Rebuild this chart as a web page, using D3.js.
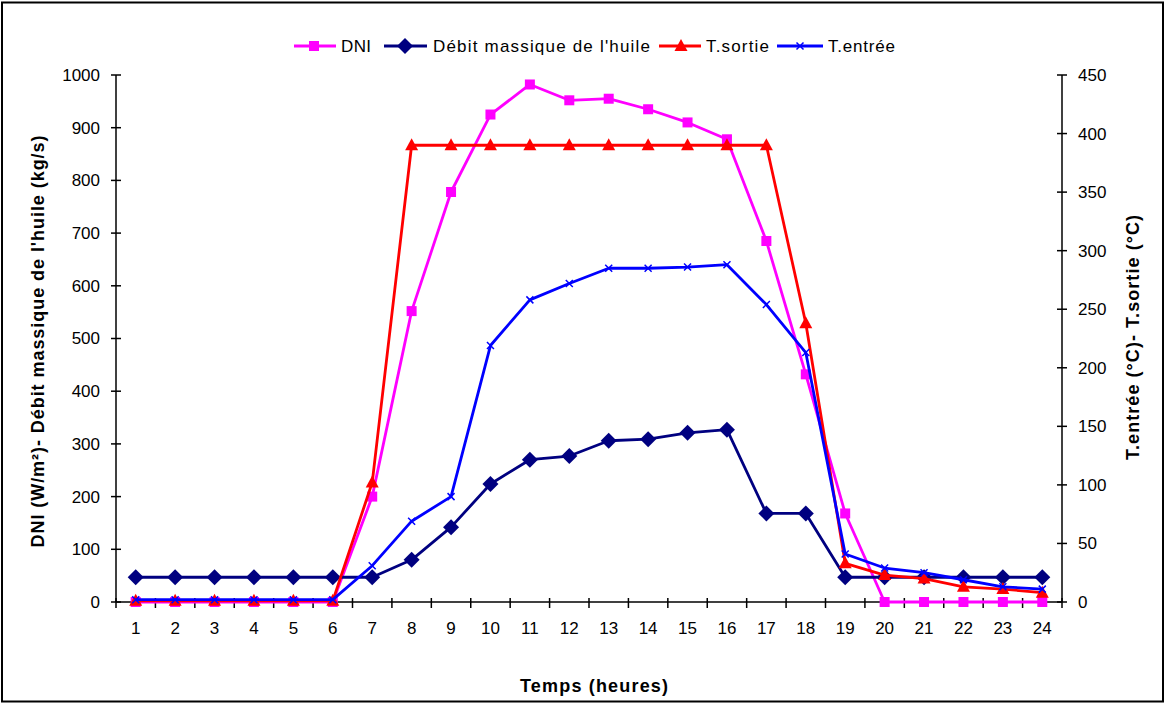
<!DOCTYPE html>
<html>
<head>
<meta charset="utf-8">
<script src="https://cdn.jsdelivr.net/npm/d3@7"></script>
<style>
  html, body { margin: 0; padding: 0; background: #fff; }
  svg { display: block; font-family: "Liberation Sans", Arial, sans-serif; }
</style>
</head>
<body>
<svg id="chart" width="1166" height="704"></svg>
<script>
const hours = [1,2,3,4,5,6,7,8,9,10,11,12,13,14,15,16,17,18,19,20,21,22,23,24];
const dni = [0,0,0,0,0,0,200,552,778,925,982,952,955,935,910,878,685,432,168,0,0,0,0,0];
const debit = [47,47,47,47,47,47,47,80,142,224,270,277,306,309,321,327,168,168,47,47,47,47,47,47];
const tSortie = [1,1,1,1,1,1,102,390,390,390,390,390,390,390,390,390,390,238,33,23,20,13,11,8];
const tEntree = [2,2,2,2,2,2,31,69,90,219,258,272,285,285,286,288,254,213,41,29,25,19,13,11];
const leftTicks = [0,100,200,300,400,500,600,700,800,900,1000];
const rightTicks = [0,50,100,150,200,250,300,350,400,450];

const svg = d3.select("#chart");
const m = {left: 116, right: 1062, top: 75, bottom: 602};

// outer border
svg.append("rect").attr("x", 2).attr("y", 2.5).attr("width", 1161).attr("height", 699)
  .attr("fill", "#fff").attr("stroke", "#000").attr("stroke-width", 2);

const x = d3.scaleBand().domain(hours).range([m.left, m.right]).padding(0);
const xc = d => x(d) + x.bandwidth() / 2;
const yL = d3.scaleLinear().domain([0, 1000]).range([m.bottom, m.top]);
const yR = d3.scaleLinear().domain([0, 450]).range([m.bottom, m.top]);

const fs = 17;
const fsTitle = 18;
// Left axis
const gL = svg.append("g").attr("transform", `translate(${m.left},0)`);
gL.append("line").attr("y1", m.top).attr("y2", m.bottom).attr("stroke", "#000").attr("stroke-width", 1.5);
gL.selectAll("line.t").data(leftTicks).enter().append("line").attr("class", "t")
  .attr("x1", -5).attr("x2", 5).attr("y1", d => yL(d)).attr("y2", d => yL(d)).attr("stroke", "#000").attr("stroke-width", 1.5);
gL.selectAll("text").data(leftTicks).enter().append("text")
  .attr("x", -16).attr("y", d => yL(d)).attr("dy", "0.35em").attr("text-anchor", "end")
  .attr("font-size", fs).text(d => d);

// Right axis
const gR = svg.append("g").attr("transform", `translate(${m.right},0)`);
gR.append("line").attr("y1", m.top).attr("y2", m.bottom).attr("stroke", "#000").attr("stroke-width", 1.5);
gR.selectAll("line.t").data(rightTicks).enter().append("line").attr("class", "t")
  .attr("x1", -5).attr("x2", 5).attr("y1", d => yR(d)).attr("y2", d => yR(d)).attr("stroke", "#000").attr("stroke-width", 1.5);
gR.selectAll("text").data(rightTicks).enter().append("text")
  .attr("x", 16).attr("y", d => yR(d)).attr("dy", "0.35em").attr("text-anchor", "start")
  .attr("font-size", fs).text(d => d);

// Bottom axis
const gB = svg.append("g").attr("transform", `translate(0,${m.bottom})`);
gB.append("line").attr("x1", m.left).attr("x2", m.right).attr("stroke", "#000").attr("stroke-width", 1.5);
const bounds = hours.map(h => x(h)).concat([m.right]);
gB.selectAll("line.t").data(bounds).enter().append("line").attr("class", "t")
  .attr("x1", d => d).attr("x2", d => d).attr("y1", -4).attr("y2", 6).attr("stroke", "#000").attr("stroke-width", 1.5);
gB.selectAll("text").data(hours).enter().append("text")
  .attr("x", d => xc(d)).attr("y", 26).attr("dy", "0.35em").attr("text-anchor", "middle")
  .attr("font-size", fs).text(d => d);

// Axis titles
svg.append("text").attr("x", 594).attr("y", 686).attr("dy", "0.35em").attr("text-anchor", "middle")
  .attr("font-size", fsTitle).attr("font-weight", "bold")
  .attr("textLength", 148).attr("lengthAdjust", "spacing").text("Temps (heures)");
svg.append("text").attr("transform", "translate(38,341.5) rotate(-90)").attr("dy", "0.35em")
  .attr("text-anchor", "middle").attr("font-size", fsTitle).attr("font-weight", "bold")
  .attr("textLength", 412).attr("lengthAdjust", "spacing")
  .text("DNI (W/m²)- Débit massique de l'huile (kg/s)");
svg.append("text").attr("transform", "translate(1133,337.5) rotate(-90)").attr("dy", "0.35em")
  .attr("text-anchor", "middle").attr("font-size", fsTitle).attr("font-weight", "bold")
  .attr("textLength", 245).attr("lengthAdjust", "spacing")
  .text("T.entrée (°C)- T.sortie (°C)");

// Markers
function drawMarker(g, type, color, cx, cy) {
  if (type === "square") {
    g.append("rect").attr("x", cx - 5).attr("y", cy - 5).attr("width", 10).attr("height", 10).attr("fill", color);
  } else if (type === "diamond") {
    g.append("path").attr("d", `M${cx},${cy-8}L${cx+8},${cy}L${cx},${cy+8}L${cx-8},${cy}Z`).attr("fill", color);
  } else if (type === "triangle") {
    g.append("path").attr("d", `M${cx},${cy-7}L${cx+6.5},${cy+5}L${cx-6.5},${cy+5}Z`).attr("fill", color);
  } else if (type === "x") {
    g.append("path").attr("d", `M${cx-3.5},${cy-3.5}L${cx+3.5},${cy+3.5}M${cx-3.5},${cy+3.5}L${cx+3.5},${cy-3.5}`)
      .attr("stroke", color).attr("stroke-width", 1.5).attr("fill", "none");
  }
}

const series = [
  {name: "DNI", values: dni, scale: yL, color: "#FF00FF", marker: "square"},
  {name: "Débit massique de l'huile", values: debit, scale: yL, color: "#000080", marker: "diamond"},
  {name: "T.sortie", values: tSortie, scale: yR, color: "#FF0000", marker: "triangle"},
  {name: "T.entrée", values: tEntree, scale: yR, color: "#0000FF", marker: "x"}
];

series.forEach(s => {
  const g = svg.append("g");
  const line = d3.line().x((d, i) => xc(hours[i])).y(d => s.scale(d));
  g.append("path").attr("d", line(s.values)).attr("fill", "none").attr("stroke", s.color)
    .attr("stroke-width", 2.8).attr("stroke-linejoin", "round");
  s.values.forEach((v, i) => drawMarker(g, s.marker, s.color, xc(hours[i]), s.scale(v)));
});

// Legend
const legendItems = [
  {lx1: 294, lx2: 336, mx: 314, tx: 341, tw: 30},
  {lx1: 384, lx2: 427, mx: 405, tx: 433, tw: 217},
  {lx1: 659, lx2: 701, mx: 681, tx: 706, tw: 63},
  {lx1: 777, lx2: 823, mx: 800, tx: 828, tw: 67}
];
const ly = 46;
series.forEach((s, i) => {
  const it = legendItems[i];
  const g = svg.append("g");
  g.append("line").attr("x1", it.lx1).attr("x2", it.lx2).attr("y1", ly).attr("y2", ly)
    .attr("stroke", s.color).attr("stroke-width", 2.8);
  drawMarker(g, s.marker, s.color, it.mx, ly);
  g.append("text").attr("x", it.tx).attr("y", ly).attr("dy", "0.35em").attr("font-size", fs)
    .attr("textLength", it.tw).attr("lengthAdjust", "spacing").text(s.name);
});
</script>
</body>
</html>
